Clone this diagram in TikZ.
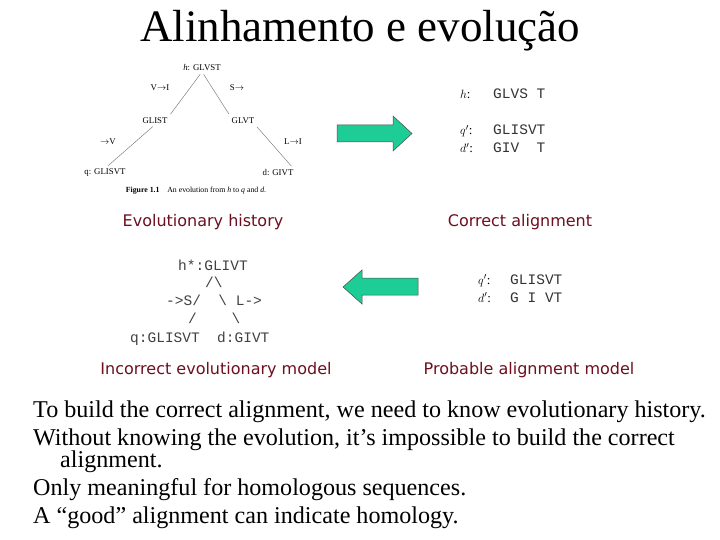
\documentclass[tikz,border=0pt]{standalone}
\usepackage{fontspec}
\setmainfont{Liberation Serif}
\setmonofont{Liberation Mono}
\newfontfamily\labelfont{DejaVu Sans}
\usepackage{xcolor}
\usepackage{tikz}

\definecolor{arrowgreen}{RGB}{30,204,150}
\definecolor{labelred}{RGB}{110,14,30}

\begin{document}
\begin{tikzpicture}[x=1pt,y=-1pt,
                figtext/.style={font=\fontsize{8.8}{10}\selectfont,inner sep=0.5pt},
                figcaption/.style={font=\fontsize{7.8}{9}\selectfont,inner sep=0pt},
                treeline/.style={gray,line width=0.5pt,shorten <=3pt,shorten >=4pt},
                panellabel/.style={font=\labelfont\fontsize{16}{18}\selectfont,text=labelred},
                seqname/.style={font=\fontsize{13}{14}\selectfont,anchor=base west,inner sep=0pt},
                seqtext/.style={font=\ttfamily\fontsize{14.5}{15}\selectfont,anchor=base west,inner sep=0pt,text=black!80},
                asciitext/.style={font=\ttfamily\fontsize{14.5}{15}\selectfont,anchor=base west,inner sep=0pt,text=black!75},
                bodytext/.style={font=\fontsize{24.1}{26}\selectfont,anchor=base west,inner sep=0pt},
                blockarrow/.style={fill=arrowgreen,draw=black!70,line width=0.5pt},
            ]
            \useasboundingbox (0,0) rectangle (720,540);

            \node[font=\fontsize{45}{50}\selectfont,anchor=base] (title) at (360,42) {Alinhamento e evolução};

            % evolution tree (figure)
            \node[figtext] (hroot) at (202,68) {\textit{h}: GLVST};
            \node[figtext] (vtoi) at (160,88) {V$\to$I};
            \node[figtext] (stogap) at (237,88) {S$\to$};
            \node[figtext] (glist) at (155,121) {GLIST};
            \node[figtext] (glvt) at (243,121) {GLVT};
            \node[figtext] (gaptov) at (108,142) {$\to$V};
            \node[figtext] (ltoi) at (293,142) {L$\to$I};
            \node[figtext] (qleaf) at (105,173) {q: GLISVT};
            \node[figtext] (dleaf) at (278,173) {d: GIVT};
            \node[figcaption] (figcap) at (196,191) {\textbf{Figure 1.1}\quad An evolution from \textit{h} to \textit{q} and \textit{d}.};

            \draw[treeline] (hroot.south) -- (glist.north east);
            \draw[treeline] (hroot.south) -- (glvt.north west);
            \draw[treeline] (glist.south) -- (qleaf.north);
            \draw[treeline] (glvt.south east) -- (dleaf.north east);

            \node[panellabel] (evolhist) at (203,222) {Evolutionary history};

            % correct alignment
            \node[seqname] (hname) at (460,99) {$h$:};
            \node[seqtext] (hseq) at (493,99) {GLVS~T};
            \node[seqname] (qname) at (460,135) {$q'$:};
            \node[seqtext] (qseq) at (493,135) {GLISVT};
            \node[seqname] (dname) at (460,153) {$d'$:};
            \node[seqtext] (dseq) at (493,153) {GIV~~T};

            \node[panellabel] (correctal) at (520,222) {Correct alignment};

            % block arrows
            \fill[blockarrow] (337,125) -- (393,125) -- (393,116) -- (412,133.5)
                -- (393,151) -- (393,142) -- (337,142) -- cycle;
            \fill[blockarrow] (418,278) -- (362,278) -- (362,270) -- (343,287)
                -- (362,304) -- (362,295) -- (418,295) -- cycle;

            % incorrect evolutionary model
            \node[asciitext] (hstar) at (178,270) {h*:GLIVT};
            \node[asciitext] (forkone) at (205,287) {/\textbackslash};
            \node[asciitext] (forktwo) at (166,305) {->S/~~\textbackslash{}~L->};
            \node[asciitext] (forkthree) at (188,323) {/~~~~\textbackslash};
            \node[asciitext] (leaves) at (130,342) {q:GLISVT~~d:GIVT};

            \node[panellabel] (incorrect) at (216,370) {Incorrect evolutionary model};

            % probable alignment
            \node[seqname] (qpname) at (478,284) {$q'$:};
            \node[seqtext] (qpseq) at (510,284) {GLISVT};
            \node[seqname] (dpname) at (478,302) {$d'$:};
            \node[seqtext] (dpseq) at (510,302) {G~I~VT};

            \node[panellabel] (probable) at (529,370) {Probable alignment model};

            % bullet text
            \node[bodytext] (lineone) at (33,417) {To build the correct alignment, we need to know evolutionary history.};
            \node[bodytext] (linetwo) at (33,445) {Without knowing the evolution, it’s impossible to build the correct};
            \node[bodytext] (linethree) at (60,467) {alignment.};
            \node[bodytext] (linefour) at (33,495) {Only meaningful for homologous sequences.};
            \node[bodytext] (linefive) at (33,523) {A “good” alignment can indicate homology.};
        \end{tikzpicture}
\end{document}
